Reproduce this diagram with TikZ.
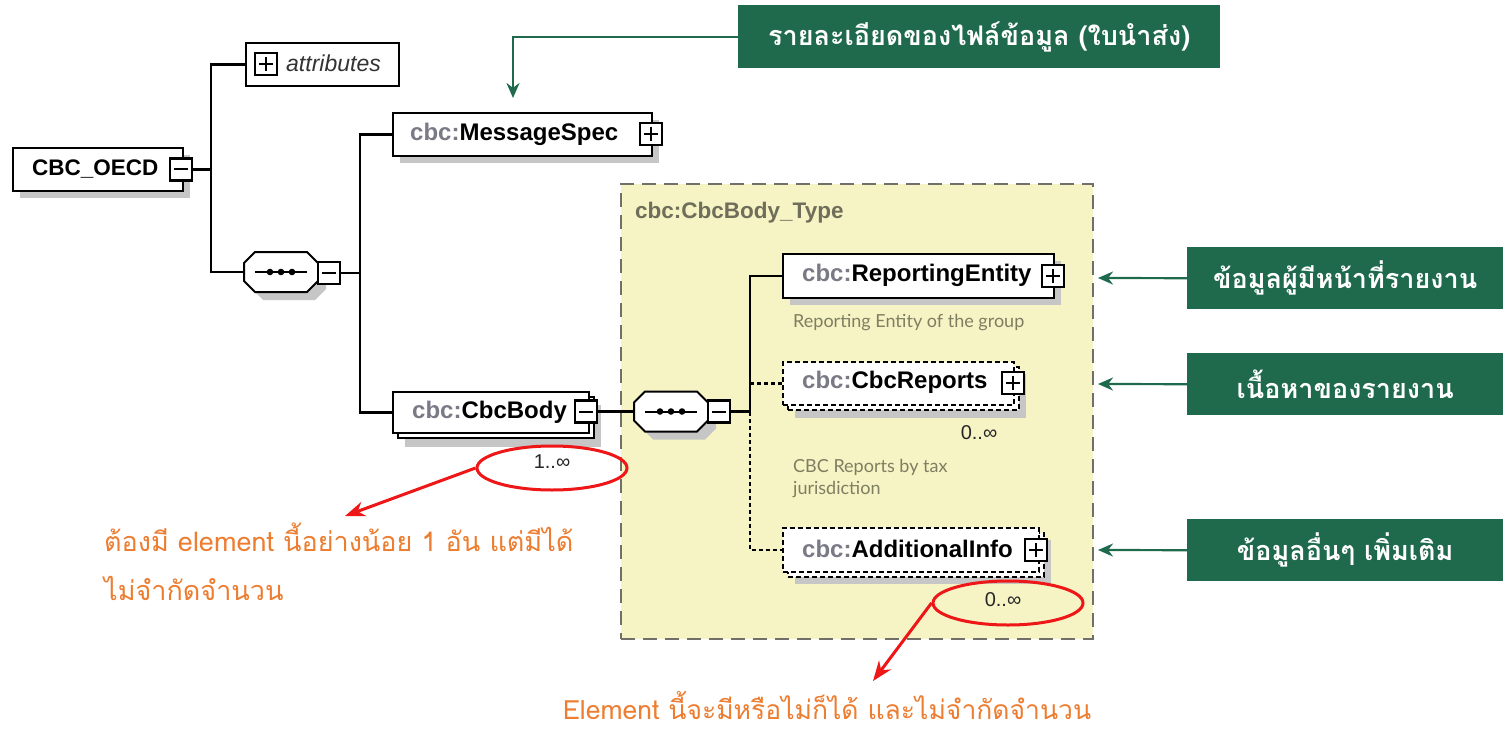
\documentclass[tikz,border=0pt]{standalone}
\usepackage{fontspec}
\setmainfont{Liberation Sans}
\newfontfamily\thaifont[Script=Thai]{Loma}
\newfontfamily\descfont{Lato}
\usetikzlibrary{shapes.geometric,arrows.meta}
\definecolor{gcol}{HTML}{1F6A4D}
\definecolor{ybg}{HTML}{F6F4C4}
\definecolor{ygray}{HTML}{707068}
\definecolor{ocol}{HTML}{ED7D31}
\definecolor{rcol}{HTML}{EE1616}
\definecolor{shad}{HTML}{C6C6C6}
\definecolor{pre}{HTML}{7A7A86}
\definecolor{dscol}{HTML}{7E7E62}
\definecolor{ttl}{HTML}{6E6E5A}
\newcommand\elname[1]{{\color{pre}cbc:}#1}
\newcommand\seqshape[3]{%
  \begin{scope}[shift={(#2,#3)}]
    \fill[shad] (-18,-12) -- (34,-12) -- (45,-1) -- (45,17) -- (34,28) -- (-18,28) -- (-29,17) -- (-29,-1) -- cycle;
    \draw[fill=white, line width=2pt] (-26,-20) -- (26,-20) -- (37,-9) -- (37,9) -- (26,20) -- (-26,20) -- (-37,9) -- (-37,-9) -- cycle;
    \draw[line width=2pt] (-26,0) -- (26,0);
    \fill (-11,0) circle (3.3pt) (0,0) circle (3.3pt) (11,0) circle (3.3pt);
  \end{scope}
  \node[minimum width=74pt, minimum height=40pt, inner sep=0] (#1) at (#2,#3) {};}
\begin{document}
\begin{tikzpicture}[x=1pt,y=-1pt,
  conn/.style={line width=2.2pt},
  optconn/.style={line width=2.2pt, dash pattern=on 4pt off 3pt},
  elem/.style={draw, fill=white, line width=2pt, anchor=north west, inner sep=0},
  optelem/.style={elem, dash pattern=on 5pt off 3pt},
  pmb/.style={draw, fill=white, line width=2.2pt, minimum size=22pt, inner sep=0},
  pbox/.style={pmb, path picture={\draw[line width=2pt] ([xshift=4pt]path picture bounding box.west) -- ([xshift=-4pt]path picture bounding box.east) ([yshift=-4pt]path picture bounding box.north) -- ([yshift=4pt]path picture bounding box.south);}},
  mbox/.style={pmb, path picture={\draw[line width=2pt] ([xshift=4pt]path picture bounding box.west) -- ([xshift=-4pt]path picture bounding box.east);}},
  lbl/.style={anchor=west, font=\bfseries\fontsize{24}{26}\selectfont, inner sep=0},
  dsc/.style={anchor=west, font=\descfont\fontsize{18}{22}\selectfont, text=dscol, inner sep=0},
  card/.style={font=\fontsize{20}{22}\selectfont, inner sep=0, text=black!85},
  gbox/.style={fill=gcol, text=white, font=\thaifont\bfseries\fontsize{27}{30}\selectfont, inner sep=0, anchor=north west},
  garrow/.style={draw=gcol, line width=2.2pt, -{Stealth[length=15pt,width=13pt]}},
  rarrow/.style={draw=rcol, line width=3pt, -{Stealth[length=20pt,width=15pt]}},
  rell/.style={ellipse, draw=rcol, line width=3pt, minimum width=150pt, minimum height=44pt, inner sep=0},
  otext/.style={text=ocol, font=\thaifont\fontsize{27}{30}\selectfont, inner sep=0}
]
\useasboundingbox (0,0) rectangle (1503,730);
\fill[white] (0,0) rectangle (1503,730);

% yellow type box
\node[draw=ygray, fill=ybg, dash pattern=on 14pt off 8pt, line width=2.2pt, minimum width=472pt, minimum height=455pt, anchor=north west, inner sep=0] (ytype) at (620,183) {};
\node[anchor=west, inner sep=0, text=ttl, font=\bfseries\fontsize{22.5}{26}\selectfont] (ttl) at (635,213) {cbc:CbcBody\_Type};

% attributes
\node[elem, minimum width=153pt, minimum height=43pt] (attr) at (245,42) {};
\node[pbox] (attrp) at (266,64) {};
\node[anchor=west, inner sep=0, font=\itshape\fontsize{23}{26}\selectfont, text=black!80] (attrt) at (286,63.5) {attributes};

% CBC_OECD
\fill[shad] (20,155) rectangle ++(170,43);
\node[elem, minimum width=170pt, minimum height=43pt] (oecd) at (12,147) {};
\node[lbl, font=\bfseries\fontsize{22.5}{26}\selectfont] (oecdt) at (32,169) {CBC\_OECD};
\node[mbox] (oecdm) at (181,169.5) {};

% sequence 1
\seqshape{seq1}{281}{272}
\node[mbox] (seq1m) at (329,273) {};

% MessageSpec
\fill[shad] (400,120) rectangle ++(259,43);
\node[elem, minimum width=259pt, minimum height=43pt] (msg) at (392,112) {};
\node[lbl] (msgt) at (410,134) {\elname{MessageSpec}};
\node[pbox] (msgp) at (651,134) {};

% CbcBody (stacked)
\fill[shad] (405,405) rectangle ++(196,42);
\node[elem, minimum width=196pt, minimum height=41pt] (bodyb) at (397,396) {};
\node[elem, minimum width=196pt, minimum height=41pt] (body) at (392,391) {};
\node[lbl] (bodyt) at (412,412) {\elname{CbcBody}};
\node[mbox] (bodym) at (586,411.5) {};
\node[card] (c1) at (552,462) {1..∞};

% sequence 2
\seqshape{seq2}{671}{411.5}
\node[mbox] (seq2m) at (719,411.5) {};

% ReportingEntity
\fill[shad] (790,261) rectangle ++(271,44);
\node[elem, minimum width=271pt, minimum height=44pt] (rep) at (782,253) {};
\node[lbl] (rept) at (802,275.5) {\elname{ReportingEntity}};
\node[pbox] (repp) at (1053,276) {};
\node[dsc] (repd) at (793,323) {Reporting Entity of the group};

% CbcReports (optional, stacked)
\fill[shad] (795,374) rectangle ++(231,44);
\node[optelem, minimum width=231pt, minimum height=43pt] (rptb) at (787,366) {};
\node[optelem, minimum width=231pt, minimum height=43pt] (rpt) at (782,361) {};
\node[lbl] (rptt) at (802,382.5) {\elname{CbcReports}};
\node[pbox] (rptp) at (1013,383) {};
\node[card] (c2) at (979,433) {0..∞};
\node[dsc] (rptd1) at (793,467) {CBC Reports by tax};
\node[dsc] (rptd2) at (793,490) {jurisdiction};

% AdditionalInfo (optional, stacked)
\fill[shad] (795,540) rectangle ++(256,44);
\node[optelem, minimum width=256pt, minimum height=44pt] (addb) at (787,532) {};
\node[optelem, minimum width=256pt, minimum height=44pt] (add) at (782,527) {};
\node[lbl] (addt) at (802,549) {\elname{AdditionalInfo}};
\node[pbox] (addp) at (1036,550) {};
\node[card] (c3) at (1003,600) {0..∞};

% connectors
\coordinate (j1) at (211,169.5);
\draw[conn] (oecdm.east) -- (j1);
\draw[conn] (attr.west) -| (j1) |- (seq1.west);
\coordinate (j2) at (360,273);
\draw[conn] (seq1m.east) -- (j2);
\draw[conn] (msg.west) -| (j2) |- (body.west);
\draw[conn] (bodym.east) -- (seq2.west);
\coordinate (j3) at (750,411.5);
\draw[optconn] (j3) |- (rpt.west);
\draw[optconn] (j3) |- (add.west);
\draw[conn] (seq2m.east) -- (j3);
\draw[conn] (j3) |- (rep.west);

% green callouts
\node[gbox, minimum width=482pt, minimum height=63pt] (g0) at (738,5) {รายละเอียดของไฟล์ข้อมูล (ใบนำส่ง)};
\node[gbox, minimum width=316pt, minimum height=62pt] (g1) at (1187,247) {ข้อมูลผู้มีหน้าที่รายงาน};
\node[gbox, minimum width=316pt, minimum height=62pt] (g2) at (1187,353) {เนื้อหาของรายงาน};
\node[gbox, minimum width=316pt, minimum height=62pt] (g3) at (1187,519) {ข้อมูลอื่นๆ เพิ่มเติม};
\coordinate (tm) at (513,98);
\coordinate (t1) at (1098,278);
\coordinate (t2) at (1098,384);
\coordinate (t3) at (1098,550);
\draw[garrow] (g0.west) -| (tm);
\draw[garrow] (g1.west) -- (t1);
\draw[garrow] (g2.west) -- (t2);
\draw[garrow] (g3.west) -- (t3);

% red highlights
\node[rell] (e1) at (552,468) {};
\node[rell] (e2) at (1008,603) {};
\coordinate (r1) at (345,516);
\coordinate (r2) at (873,681);
\draw[rarrow] (e1.west) -- (r1);
\draw[rarrow] (e2.west) -- (r2);

% orange notes
\node[otext, anchor=base west] (o1) at (104,551) {ต้องมี element นี้อย่างน้อย 1 อัน แต่มีได้};
\node[otext, anchor=base west] (o2) at (104,600) {ไม่จำกัดจำนวน};
\node[otext, anchor=base, font=\thaifont\fontsize{26.5}{30}\selectfont] (o3) at (827,719) {Element นี้จะมีหรือไม่ก็ได้ และไม่จำกัดจำนวน};
\end{tikzpicture}
\end{document}
